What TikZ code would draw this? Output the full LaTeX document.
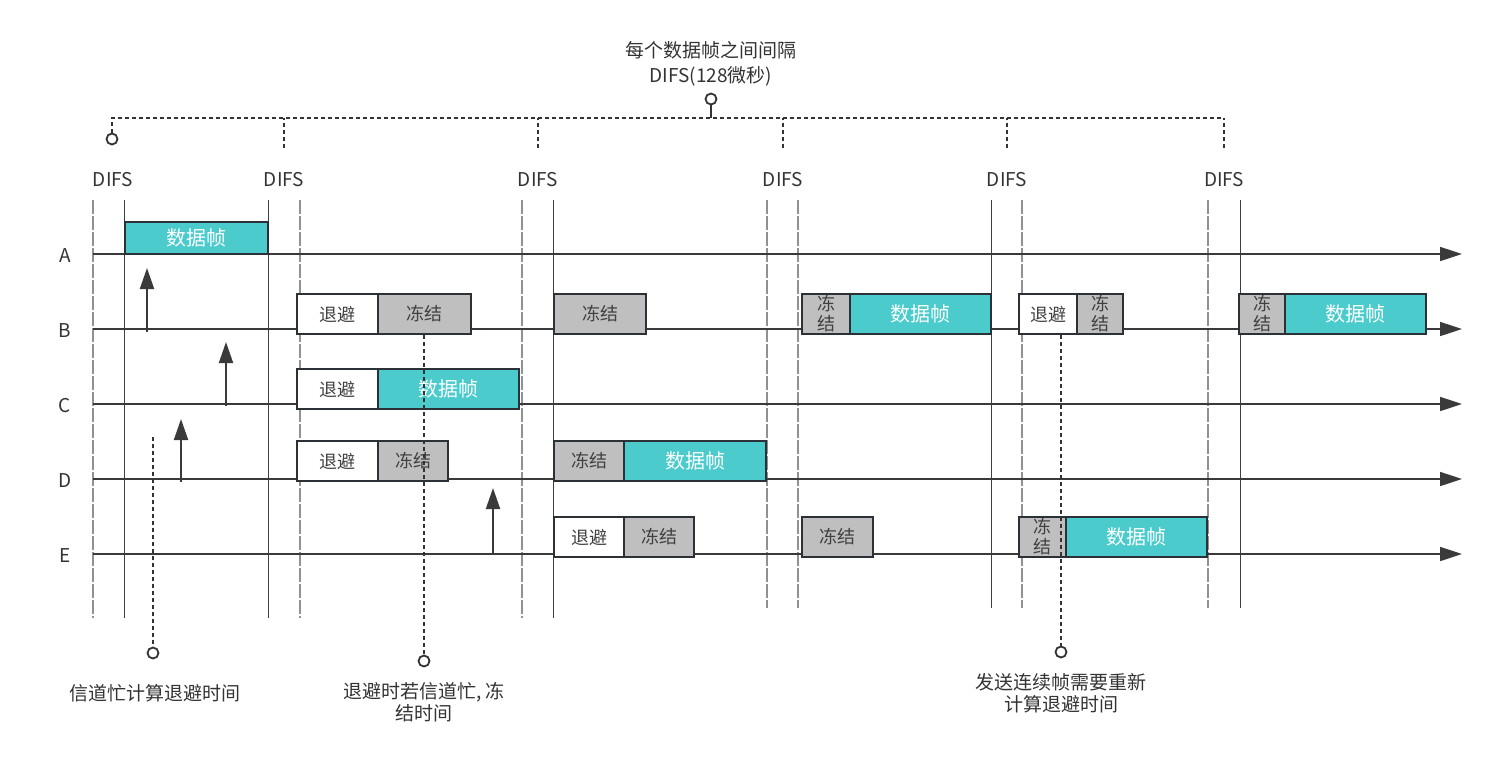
\documentclass[tikz,border=0pt]{standalone}
\usepackage{fontspec}
\setmainfont{Noto Sans CJK SC}
\usetikzlibrary{arrows.meta}
\definecolor{linedark}{HTML}{3A3F44}
\definecolor{linegray}{HTML}{8E9296}
\definecolor{lanec}{HTML}{3A3A3A}
\definecolor{boxborder}{HTML}{2B3136}
\definecolor{boxtext}{HTML}{404040}
\definecolor{frzgray}{HTML}{BFBFBF}
\definecolor{tealbox}{HTML}{4BCBCC}
\definecolor{labeltext}{HTML}{333333}
\definecolor{dotc}{HTML}{333333}
\begin{document}
\begin{tikzpicture}[x=1pt,y=-1pt,
  vsolid/.style={draw=linedark, line width=1pt},
  vdash/.style={draw=linegray, line width=1.1pt, dash pattern=on 14pt off 2pt},
  lane/.style={draw=lanec, line width=1.6pt, -{Triangle[length=22pt,width=14pt]}},
  bx/.style={draw=boxborder, line width=2pt, minimum height=40pt, inner sep=0pt, text=boxtext, font=\fontsize{18}{20}\selectfont, align=center},
  frz/.style={bx, fill=frzgray},
  bko/.style={bx, fill=white},
  dat/.style={bx, fill=tealbox, text=white, font=\fontsize{20}{22}\selectfont},
  lbl/.style={text=labeltext, font=\fontsize{19}{23}\selectfont, align=center, inner sep=0pt},
  dots/.style={draw=dotc, line width=2pt, dash pattern=on 4pt off 3pt},
  pin/.style={circle, draw=dotc, line width=1.8pt, fill=white, minimum size=11pt, inner sep=0pt},
  up/.style={draw=lanec, line width=2pt, -{Triangle[length=21pt,width=14pt]}},
]
\useasboundingbox (0,0) rectangle (1490,769);

% top bracket
\node[lbl, font=\fontsize{19}{25}\selectfont] (toplbl) at (711,64) {每个数据帧之间间隔\\DIFS(128微秒)};
\coordinate (j) at (711,118);
\coordinate (jl) at (112,118);
\coordinate (jr) at (1224,118);
\node[pin] (p0) at (112,139) {};
\draw[dots] (p0) -- (jl) -- (jr);
\foreach \x/\n in {284/t1,538/t2,783/t3,1007/t4,1224/t5}{
  \coordinate (\n) at (\x,148);
  \coordinate (\n u) at (\x,118);
  \draw[dots] (\n) -- (\n u);
}
\node[pin] (ptop) at (711,99) {};
\draw[draw=dotc, line width=2pt] (ptop) -- (j);

% DIFS labels
\foreach \x in {113,284,538,783,1007,1224}{
  \node[lbl] at (\x,180) {DIFS};
}

% vertical lines
\draw[vdash] (93,200) -- (93,618);
\draw[vsolid] (124,200) -- (124,618);
\draw[vsolid] (268,200) -- (268,618);
\draw[vdash] (300,200) -- (300,618);
\draw[vdash] (522,200) -- (522,618);
\draw[vsolid] (553,200) -- (553,618);
\draw[vdash] (767,200) -- (767,608);
\draw[vdash] (798,200) -- (798,608);
\draw[vsolid] (991,200) -- (991,608);
\draw[vdash] (1022,200) -- (1022,608);
\draw[vdash] (1208,200) -- (1208,608);
\draw[vsolid] (1240,200) -- (1240,608);

% lanes
\foreach \n/\y in {A/254,B/329,C/404,D/479,E/554}{
  \node[lbl] (l\n) at (65,\y+2) {\n};
  \coordinate (\n s) at (93,\y);
  \coordinate (\n m) at (140,\y);
  \coordinate (\n e) at (1462,\y);
  \draw[lane] (\n s) -- (\n e);
  \draw[draw=lanec, line width=2.4pt] (\n s) -- (\n m);
}

% up arrows
\coordinate (u1a) at (147,332); \coordinate (u1b) at (147,268);
\coordinate (u2a) at (226,406); \coordinate (u2b) at (226,342);
\coordinate (u3a) at (181,482); \coordinate (u3b) at (181,419);
\coordinate (u4a) at (493,555); \coordinate (u4b) at (493,488);
\draw[up] (u1a) -- (u1b);
\draw[up] (u2a) -- (u2b);
\draw[up] (u3a) -- (u3b);
\draw[up] (u4a) -- (u4b);

% boxes A
\node[dat, minimum width=143pt, minimum height=32pt] (a1) at (196.5,238) {数据帧};
% boxes B
\node[bko, minimum width=81pt] (b1) at (337.5,314) {退避};
\node[frz, minimum width=93pt] (b2) at (424.5,314) {冻结};
\node[frz, minimum width=92pt] (b3) at (600,314) {冻结};
\node[frz, minimum width=48pt] (b4) at (826,314) {冻\\结};
\node[dat, minimum width=141pt] (b5) at (920.5,314) {数据帧};
\node[bko, minimum width=58pt] (b6) at (1048,314) {退避};
\node[frz, minimum width=46pt] (b7) at (1100,314) {冻\\结};
\node[frz, minimum width=46pt] (b8) at (1262,314) {冻\\结};
\node[dat, minimum width=141pt] (b9) at (1355.5,314) {数据帧};
% boxes C
\node[bko, minimum width=81pt] (c1) at (337.5,389) {退避};
\node[dat, minimum width=141pt] (c2) at (448.5,389) {数据帧};
% boxes D
\node[bko, minimum width=81pt] (d1) at (337.5,461) {退避};
\node[frz, minimum width=70pt] (d2) at (413,461) {冻结};
\node[frz, minimum width=70pt] (d3) at (589,461) {冻结};
\node[dat, minimum width=142pt] (d4) at (695,461) {数据帧};
% boxes E
\node[bko, minimum width=70pt] (e1) at (589,537) {退避};
\node[frz, minimum width=70pt] (e2) at (659,537) {冻结};
\node[frz, minimum width=71pt] (e3) at (837.5,537) {冻结};
\node[frz, minimum width=47pt] (e4) at (1042.5,537) {冻\\结};
\node[dat, minimum width=141pt] (e5) at (1136.5,537) {数据帧};

% annotations
\coordinate (n1) at (153,437);
\node[pin] (q1) at (153,653) {};
\draw[dots] (n1) -- (q1);
\node[lbl] (al1) at (155,693) {信道忙计算退避时间};

\coordinate (n2) at (424,335);
\node[pin] (q2) at (424,661) {};
\draw[dots] (n2) -- (q2);
\node[lbl, font=\fontsize{19}{22}\selectfont] (al2) at (424,702) {退避时若信道忙, 冻\\结时间};

\coordinate (n3) at (1061,335);
\node[pin] (q3) at (1061,652) {};
\draw[dots] (n3) -- (q3);
\node[lbl, font=\fontsize{19}{22}\selectfont] (al3) at (1061,693) {发送连续帧需要重新\\计算退避时间};
\end{tikzpicture}
\end{document}
